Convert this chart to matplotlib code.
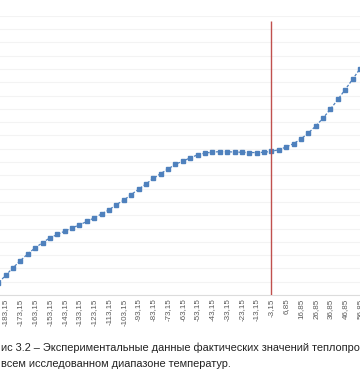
import matplotlib
matplotlib.use("Agg")
import matplotlib.pyplot as plt
import numpy as np

# Temperatures (°C) of the measured points
temps = [-188.15, -183.15, -178.15, -173.15, -168.15, -163.15, -158.15, -153.15,
         -148.15, -143.15, -138.15, -133.15, -128.15, -123.15, -118.15, -113.15,
         -108.15, -103.15, -98.15, -93.15, -88.15, -83.15, -78.15, -73.15,
         -68.15, -63.15, -58.15, -53.15, -48.15, -43.15, -38.15, -33.15,
         -28.15, -23.15, -18.15, -13.15, -8.15, -3.15, 1.85, 6.85,
         11.85, 16.85, 21.85, 26.85, 31.85, 36.85, 41.85, 46.85, 51.85, 56.85]
# Measured values (in grid units of the chart)
values = [0.90, 1.48, 2.05, 2.59, 3.09, 3.55, 3.94, 4.30,
          4.55, 4.80, 5.05, 5.27, 5.53, 5.80, 6.10, 6.40,
          6.80, 7.13, 7.55, 7.95, 8.35, 8.76, 9.13, 9.47,
          9.83, 10.07, 10.31, 10.54, 10.67, 10.74, 10.78, 10.77,
          10.75, 10.73, 10.71, 10.71, 10.73, 10.80, 10.92, 11.13,
          11.38, 11.73, 12.18, 12.70, 13.30, 13.98, 14.70, 15.45, 16.22, 17.01]
tick_temps = [-183.15, -173.15, -163.15, -153.15, -143.15, -133.15, -123.15,
              -113.15, -103.15, -93.15, -83.15, -73.15, -63.15, -53.15, -43.15,
              -33.15, -23.15, -13.15, -3.15, 6.85, 16.85, 26.85, 36.85, 46.85, 56.85]
tick_labels = [f"{t:.2f}".replace(".", ",") for t in tick_temps]
marker_temp = -3.15
caption_1 = "ис 3.2 – Экспериментальные данные фактических значений теплопро"
caption_2 = "всем исследованном диапазоне температур."

W, H = 360, 380
fig = plt.figure(figsize=(W / 100, H / 100), dpi=100)
fig.patch.set_facecolor("white")

bottom_px, top_px = 295, 15.7
ax = fig.add_axes([0, 1 - bottom_px / H, 1, (bottom_px - top_px) / H])
ax.set_facecolor("white")
ax.set_xlim(-187.0, 56.6)
ax.set_ylim(0, 21)
ax.set_yticks(np.arange(0, 22, 1))
ax.yaxis.grid(True, color="#f3f3f3", linewidth=0.8)
ax.set_axisbelow(True)
for s in ["left", "right", "top"]:
    ax.spines[s].set_visible(False)
ax.spines["bottom"].set_color("#dcdcdc")
ax.spines["bottom"].set_linewidth(0.8)
ax.tick_params(axis="y", left=False, labelleft=False)
ax.tick_params(axis="x", length=0, pad=2.5)
ax.set_xticks(tick_temps)
ax.set_xticklabels(tick_labels, rotation=90, fontsize=5.8,
                   family="Liberation Sans", color="#595959")

ax.plot(temps, values, color="#4f81bd", linestyle=(0, (2.2, 1.4)), linewidth=0.9,
        marker="s", markersize=3.0, markerfacecolor="#4f81bd",
        markeredgecolor="#4f81bd", clip_on=True, zorder=3)

ax.plot([marker_temp, marker_temp], [0, 20.63], color="#c0504d", linewidth=1.0,
        zorder=4, solid_capstyle="butt")

fig.text(1 / W, 1 - 348 / H, caption_1, fontsize=7.9, family="Liberation Sans",
         color="#222222", ha="left", va="center")
fig.text(1 / W, 1 - 364 / H, caption_2, fontsize=7.9, family="Liberation Sans",
         color="#222222", ha="left", va="center")

fig.savefig("out.png", dpi=100, facecolor="white")
